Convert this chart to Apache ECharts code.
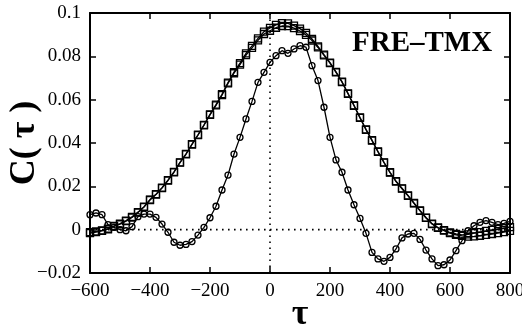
<!DOCTYPE html>
<html>
<head>
<meta charset="utf-8">
<script src="https://cdn.jsdelivr.net/npm/echarts@6/dist/echarts.min.js"></script>
<style>html,body{margin:0;padding:0;background:#fff}#c{width:522px;height:330px}</style>
</head>
<body>
<div id="c"></div>
<script>
const tau = [];
for (let t = -600; t <= 800; t += 20) tau.push(t);

const squaresA = [
 -0.0012,-0.0008,-0.0003,0.0005,0.0017,0.0028,0.0042,0.0059,0.0081,0.0106,0.0139,
 0.0164,0.0194,0.0229,0.0267,0.0311,0.0350,0.0395,0.0438,0.0484,0.0532,
 0.0577,0.0625,0.0679,0.0727,0.0769,0.0814,0.0848,0.0883,0.0914,0.0931,
 0.0945,0.0953,0.0952,0.0942,0.0928,0.0908,0.0880,0.0846,0.0808,0.0771,
 0.0728,0.0683,0.0629,0.0574,0.0518,0.0463,0.0413,0.0361,0.0311,0.0265,
 0.0224,0.0191,0.0158,0.0123,0.0089,0.0056,0.0028,0.0010,-0.0002,-0.0013,
 -0.0020,-0.0024,-0.0022,-0.0016,-0.0011,-0.0006,-0.0001,0.0004,0.0008,0.0012
];
const squaresB = [
 -0.0016,-0.0011,-0.0006,0.0002,0.0015,0.0025,0.0039,0.0056,0.0079,0.0104,0.0137,
 0.0162,0.0192,0.0227,0.0265,0.0309,0.0348,0.0393,0.0436,0.0482,0.0530,
 0.0574,0.0621,0.0675,0.0722,0.0762,0.0806,0.0839,0.0874,0.0903,0.0918,
 0.0932,0.0940,0.0939,0.0930,0.0917,0.0899,0.0873,0.0841,0.0804,0.0769,
 0.0726,0.0681,0.0627,0.0572,0.0516,0.0461,0.0411,0.0359,0.0309,0.0263,
 0.0222,0.0189,0.0156,0.0121,0.0087,0.0054,0.0026,0.0008,-0.0004,-0.0016,
 -0.0024,-0.0029,-0.0032,-0.0031,-0.0028,-0.0024,-0.0020,-0.0016,-0.0011,-0.0006
];
const circles = [
 0.0069,0.0077,0.0069,0.0023,0.0011,0.0000,-0.0005,0.0014,0.0060,0.0072,0.0072,
 0.0057,0.0026,-0.0012,-0.0058,-0.0072,-0.0068,-0.0055,-0.0025,0.0011,0.0055,
 0.0108,0.0183,0.0252,0.0349,0.0426,0.0511,0.0592,0.0680,0.0726,0.0772,
 0.0803,0.0826,0.0814,0.0834,0.0849,0.0842,0.0757,0.0688,0.0565,0.0426,
 0.0322,0.0265,0.0183,0.0115,0.0052,-0.0017,-0.0105,-0.0135,-0.0146,-0.0128,
 -0.0089,-0.0038,-0.0020,-0.0017,-0.0045,-0.0094,-0.0135,-0.0166,-0.0162,-0.0140,
 -0.0097,-0.0051,-0.0005,0.0018,0.0034,0.0042,0.0034,0.0023,0.0029,0.0038
];

const xTicks = [-600,-400,-200,0,200,400,600,800];
const yTicks = [-0.02,0,0.02,0.04,0.06,0.08,0.1];
const panelLabel = 'FRE–TMX';

const font = 'Liberation Serif';
const fmt = v => String(+v.toFixed(4)).replace('-', '−');
const pairs = arr => tau.map((t, i) => [t, arr[i]]);

const chart = echarts.init(document.getElementById('c'), null, {renderer: 'canvas'});
const axisCommon = () => ({
  axisLine: {show: true, onZero: false, lineStyle: {color: '#000', width: 2}},
  axisTick: {show: true, inside: true, length: 6, lineStyle: {color: '#000', width: 1.5}},
  splitLine: {show: false}
});
const lineSeries = (data, symbol, size) => ({
  type: 'line', data: pairs(data), symbol: symbol, symbolSize: size,
  showAllSymbol: true, animation: false,
  lineStyle: {color: '#000', width: 1.3},
  itemStyle: {color: 'rgba(0,0,0,0)', borderColor: '#000', borderWidth: 1.3},
  z: 3
});
chart.setOption({
  animation: false,
  grid: {left: 90, right: 12, top: 13, bottom: 57, containLabel: false, outerBoundsMode: 'none'},
  xAxis: [
    Object.assign({type: 'value', min: -600, max: 800, interval: 200, position: 'bottom',
      name: 'τ', nameLocation: 'middle', nameGap: 24, nameMoveOverlap: false,
      nameTextStyle: {fontFamily: font, fontWeight: 'bold', fontSize: 36, color: '#000'},
      axisLabel: {fontFamily: font, fontSize: 19, color: '#000', margin: 9,
        formatter: v => xTicks.includes(v) ? fmt(v) : ''}}, axisCommon()),
    Object.assign({type: 'value', min: -600, max: 800, interval: 200, position: 'top',
      axisLabel: {show: false}}, axisCommon())
  ],
  yAxis: [
    Object.assign({type: 'value', min: -0.02, max: 0.1, interval: 0.02, position: 'left',
      name: 'C( τ )', nameLocation: 'middle', nameGap: 47, nameRotate: 90, nameMoveOverlap: false,
      nameTextStyle: {fontFamily: font, fontWeight: 'bold', fontSize: 36, color: '#000'},
      axisLabel: {fontFamily: font, fontSize: 19, color: '#000', margin: 9,
        formatter: v => fmt(v)}}, axisCommon()),
    Object.assign({type: 'value', min: -0.02, max: 0.1, interval: 0.02, position: 'right',
      axisLabel: {show: false}}, axisCommon())
  ],
  series: [
    {type: 'line', data: [[-600, 0], [800, 0]], symbol: 'none', silent: true,
     lineStyle: {color: '#000', width: 1.6, type: [1.6, 4.4]}, z: 1},
    {type: 'line', data: [[0, -0.02], [0, 0.1]], symbol: 'none', silent: true,
     lineStyle: {color: '#000', width: 1.6, type: [1.6, 4.4]}, z: 1},
    lineSeries(squaresA, 'rect', 7),
    lineSeries(squaresB, 'rect', 7),
    lineSeries(circles, 'circle', 6)
  ],
  graphic: [{
    type: 'text', left: 352, top: 29,
    style: {text: panelLabel, font: 'bold 29px "' + font + '"', fill: '#000'}
  }]
});
</script>
</body>
</html>
